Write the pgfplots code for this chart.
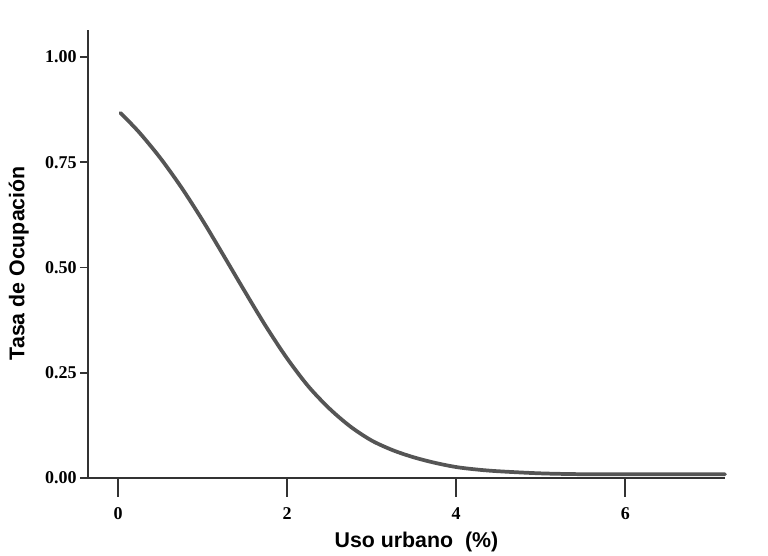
\documentclass[border=0pt]{standalone}
\usepackage{fontspec}
\setmainfont{Liberation Serif}
\newfontfamily\labelfont{Liberation Sans}
\usepackage{pgfplots}
\pgfplotsset{compat=1.18}
\definecolor{axisgray}{HTML}{333333}
\definecolor{curvegray}{HTML}{555555}

% logistic-looking fit
\pgfplotstableread{
x     y
0.03  0.867
0.25  0.821
0.50  0.760
0.75  0.690
1.00  0.612
1.25  0.528
1.50  0.443
1.75  0.360
2.00  0.284
2.25  0.218
2.50  0.165
2.75  0.122
3.00  0.089
3.25  0.066
3.50  0.049
3.75  0.036
4.00  0.026
4.25  0.020
4.50  0.016
5.00  0.011
5.50  0.009
6.00  0.009
6.50  0.009
7.18  0.009
}\occdata

\begin{document}
\begin{tikzpicture}
\useasboundingbox (-66pt,-58.5pt) rectangle (510pt,358.5pt);
\begin{axis}[
    at={(0,0)}, anchor=south west,
    scale only axis,
    width=477.75pt, height=336pt,
    xmin=-0.355, xmax=7.18,
    ymin=0, ymax=1.064,
    axis lines=left,
    axis line style={draw=axisgray, line width=1.4pt, -},
    xtick=\empty,
    extra x ticks={0,2,4,6},
    extra x tick style={major tick length=13.5pt, tick align=outside,
        tick style={draw=axisgray, line width=1.4pt, yshift=-0.75pt},
        xticklabel style={yshift=-5pt}},
    ytick={0,0.25,0.5,0.75,1},
    tick align=outside,
    major tick length=6pt,
    tick style={draw=axisgray, line width=1.4pt},
    yticklabel style={/pgf/number format/fixed, /pgf/number format/fixed zerofill, /pgf/number format/precision=2},
    ticklabel style={font=\fontsize{13.5}{15}\selectfont\bfseries},
    /pgf/number format/assume math mode=true,
    yticklabel style={xshift=1pt},
    xlabel={Uso urbano~~(\%)},
    ylabel={Tasa de Ocupación},
    label style={font=\labelfont\fontsize{16}{18}\selectfont\bfseries},
    xlabel style={at={(axis cs:3.53,0)}, anchor=center, yshift=-48pt},
    ylabel style={at={(axis cs:-0.355,0.51)}, anchor=center, yshift=52pt},
    clip=false,
]
\addplot[draw=curvegray, line width=2.8pt, line cap=round, smooth] table[x=x, y=y] {\occdata};
\end{axis}
\end{tikzpicture}
\end{document}
